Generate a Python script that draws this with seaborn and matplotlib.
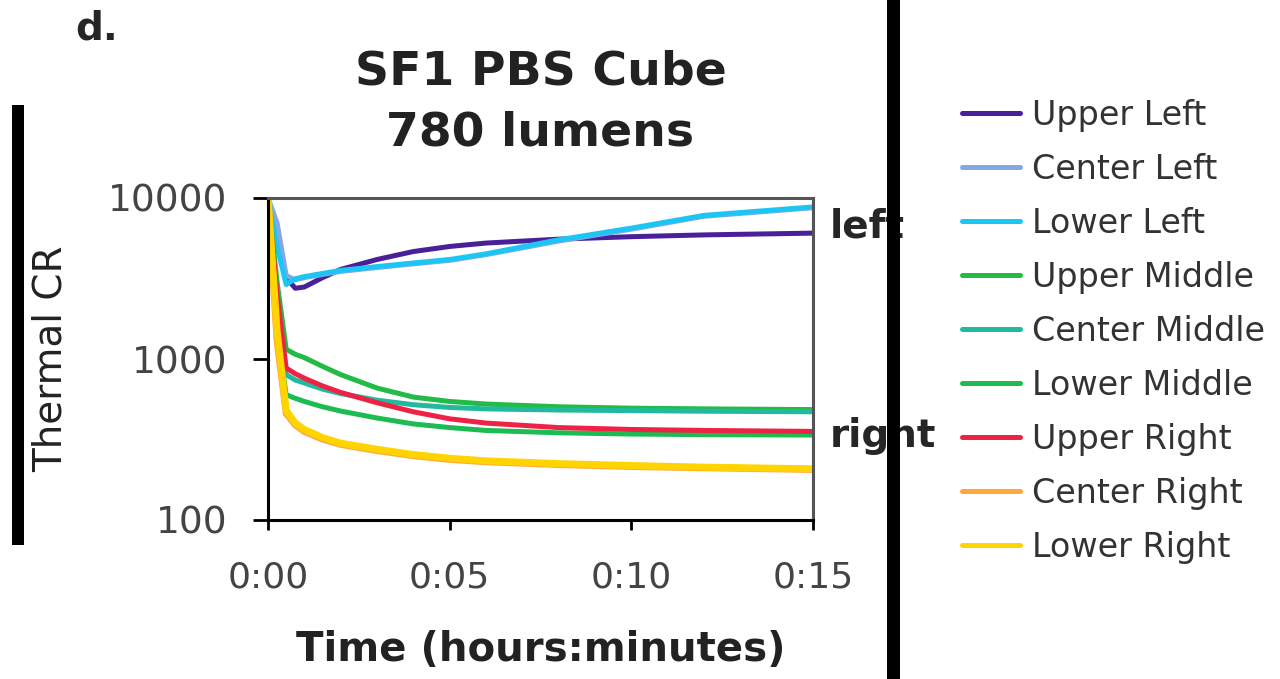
import matplotlib
matplotlib.use("Agg")
import matplotlib.pyplot as plt
from matplotlib.patches import Rectangle
import seaborn as sns

# time since start, in minutes
minutes = [0, 0.25, 0.5, 0.75, 1, 1.5, 2, 3, 4, 5, 6, 8, 10, 12, 15]

# thermal CR (log axis)
upper_left = [10000, 6000, 3200, 2750, 2800, 3200, 3600, 4150, 4650, 5000, 5250, 5550, 5750, 5900, 6050]
center_left = [10000, 7000, 3300, 3100, 3200, 3350, 3500, 3700, 3900, 4100, 4450, 5400, 6400, 7700, 8700]
lower_left = [10000, 5000, 2900, 3150, 3250, 3400, 3550, 3750, 3950, 4150, 4500, 5500, 6500, 7800, 8800]
upper_middle = [10000, 3000, 1150, 1070, 1020, 900, 800, 660, 580, 545, 525, 505, 495, 490, 485]
center_middle = [10000, 2500, 800, 740, 710, 650, 610, 555, 520, 500, 490, 482, 478, 474, 470]
lower_middle = [10000, 1500, 600, 570, 545, 505, 475, 430, 395, 375, 360, 348, 342, 339, 337]
upper_right = [10000, 2500, 880, 810, 760, 680, 620, 535, 470, 425, 400, 375, 365, 360, 355]
center_right = [10000, 1300, 460, 390, 355, 318, 295, 270, 251, 238, 230, 221, 215, 211, 206]
lower_right = [10000, 1500, 480, 400, 365, 325, 300, 275, 255, 242, 233, 224, 218, 213, 208]

series_names = ["Upper Left", "Center Left", "Lower Left",
				"Upper Middle", "Center Middle", "Lower Middle",
				"Upper Right", "Center Right", "Lower Right"]
series_values = [upper_left, center_left, lower_left,
				 upper_middle, center_middle, lower_middle,
				 upper_right, center_right, lower_right]
series_colors = ["#4a1f9a", "#84a8e4", "#1cc6f4",
				 "#22bb46", "#22b99e", "#1cbc52",
				 "#ee2244", "#ffa83a", "#ffd400"]

x_ticks = [0, 5, 10, 15]
x_tick_labels = ["0:00", "0:05", "0:10", "0:15"]
y_ticks = [100, 1000, 10000]
y_tick_labels = ["100", "1000", "10000"]

W, H = 1280, 679


def fx(px):
	return px / W


def fy(py):
	return 1 - py / H


def plot_thermal_cr():
	sns.set_style("white")
	plt.rcParams['font.family'] = ['DejaVu Sans']

	fig = plt.figure(figsize=(W / 100, H / 100), dpi=100)
	ax = fig.add_axes([fx(268), fy(520), (813 - 268) / W, (520 - 198) / H])

	# draw every series; the thick yellow/orange ones go last
	for name, vals, col in zip(series_names, series_values, series_colors):
		lw = 5.0 if name in ("Center Right", "Lower Right") else 3.6
		sns.lineplot(x=minutes, y=vals, ax=ax, color=col, linewidth=lw,
					 label=name, estimator=None, sort=False)

	ax.set_yscale('log')
	ax.set_ylim(100, 10000)
	ax.set_xlim(0, 15)
	ax.set_xticks(x_ticks)
	ax.set_xticklabels(x_tick_labels)
	ax.set_yticks(y_ticks)
	ax.set_yticklabels(y_tick_labels)
	ax.minorticks_off()
	ax.tick_params(axis='y', direction='out', length=11, width=2, pad=18, labelsize=27,
				   labelcolor='#444444', color='black', left=True)
	ax.tick_params(axis='x', direction='out', length=7, width=2, pad=22, labelsize=26,
				   labelcolor='#444444', color='black', bottom=True)

	for side in ['left', 'bottom']:
		ax.spines[side].set_color('black')
		ax.spines[side].set_linewidth(2.2)
	for side in ['top', 'right']:
		ax.spines[side].set_color('#555555')
		ax.spines[side].set_linewidth(2.2)

	ax.set_title("SF1 PBS Cube\n780 lumens", fontsize=34, fontweight='bold', color='#222222',
				 linespacing=1.45, pad=38)
	ax.set_xlabel("Time (hours:minutes)", fontsize=29, fontweight='bold', color='#222222')
	ax.xaxis.set_label_coords(0.5, -(630 - 520) / 322)
	ax.set_ylabel("Thermal CR", fontsize=28, color='#222222')
	ax.yaxis.set_label_coords((70 - 268) / 545, 0.5)

	handles, labels = ax.get_legend_handles_labels()
	leg = ax.legend(handles, labels, loc='upper left', bbox_to_anchor=(fx(962), fy(99)),
					bbox_transform=fig.transFigure, frameon=False, fontsize=24,
					handlelength=1.75, handletextpad=0.36, labelspacing=0.63,
					borderpad=0, borderaxespad=0)
	for line in leg.get_lines():
		line.set_linewidth(3.6)
	for txt in leg.get_texts():
		txt.set_color('#333333')

	# panel letter and side labels
	fig.text(fx(75), fy(40), "d.", fontsize=28, fontweight='bold', va='baseline')
	fig.text(fx(830), fy(238), "left", fontsize=28, fontweight='bold', va='baseline')
	fig.text(fx(830), fy(447), "right", fontsize=28, fontweight='bold', va='baseline')

	# black separator bars
	fig.add_artist(Rectangle((fx(12), fy(545)), 12 / W, (545 - 105) / H, transform=fig.transFigure,
							 facecolor='black', edgecolor='none', zorder=10))
	fig.add_artist(Rectangle((fx(887), 0), 13 / W, 1, transform=fig.transFigure,
							 facecolor='black', edgecolor='none', zorder=10))

	fig.savefig("out.png", dpi=100)


if __name__ == "__main__":
	plot_thermal_cr()
